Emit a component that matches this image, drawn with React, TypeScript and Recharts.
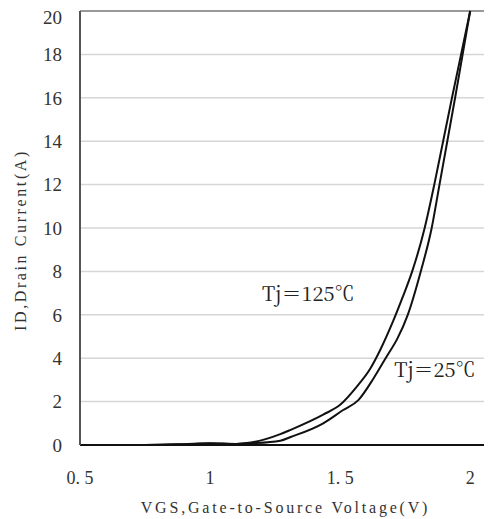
import { LineChart, Line, XAxis, YAxis, CartesianGrid, ReferenceLine, ReferenceDot, Label } from "recharts";

// VGS (V) / ID (A)
const vgs125 = [0.5, 0.75, 0.9, 1.0, 1.1, 1.15, 1.27, 1.31, 1.435, 1.5, 1.565, 1.615, 1.655, 1.7, 1.74, 1.777, 1.825, 1.862, 1.896, 1.93, 1.965, 2.0];
const id125 = [0, 0, 0.04, 0.08, 0.05, 0.1, 0.5, 0.7, 1.4, 1.85, 2.7, 3.5, 4.4, 5.6, 6.8, 8, 10, 12, 14, 16, 18, 20];

const vgs25 = [0.5, 0.75, 0.9, 1.0, 1.1, 1.16, 1.27, 1.31, 1.435, 1.51, 1.57, 1.63, 1.68, 1.72, 1.76, 1.81, 1.852, 1.882, 1.912, 1.942, 1.971, 2.0];
const id25 = [0, 0, 0.03, 0.07, 0.05, 0.08, 0.2, 0.37, 1.0, 1.6, 2.07, 3.1, 4.1, 4.9, 6.0, 8, 10, 12, 14, 16, 18, 20];

const xTicks = [0.5, 1, 1.5, 2];
const xTickLabels = ["0. 5", "1", "1. 5", "2"];
const yTicks = [0, 2, 4, 6, 8, 10, 12, 14, 16, 18, 20];

const data125 = vgs125.map((v, i) => ({ v, id: id125[i] }));
const data25 = vgs25.map((v, i) => ({ v, id: id25[i] }));

const serif = "Liberation Serif";
const cjk = "Noto Serif CJK SC";
const textStyle = { fontFamily: serif, fill: "#333" };

function XTick(props: any) {
  const { x, y, payload } = props;
  return (
    <text x={x} y={y} dy="0.71em" textAnchor="middle" style={{ ...textStyle, fontSize: 18 }}>
      {xTickLabels[xTicks.indexOf(payload.value)]}
    </text>
  );
}

function YTick(props: any) {
  const { x, y, payload } = props;
  return (
    <text x={x} y={y} dy="0.355em" textAnchor="end" style={{ ...textStyle, fontSize: 19 }}>
      {payload.value}
    </text>
  );
}

function YTitle(props: any) {
  const vb = props.viewBox || {};
  const cx = 14;
  const cy = vb.y + vb.height / 2 + 12;
  return (
    <text
      x={cx}
      y={cy}
      transform={`rotate(-90, ${cx}, ${cy})`}
      textAnchor="middle"
      dominantBaseline="middle"
      style={{ ...textStyle, fontSize: 16, letterSpacing: 2.6 }}
    >
      ID,Drain Current(A)
    </text>
  );
}

function XTitle(props: any) {
  const vb = props.viewBox || {};
  const cx = vb.x + vb.width / 2;
  const cy = vb.y + vb.height - 6;
  return (
    <text x={cx} y={cy} textAnchor="middle" style={{ ...textStyle, fontSize: 16, letterSpacing: 2.8 }}>
      VGS,Gate-to-Source Voltage(V)
    </text>
  );
}

export default function App() {
  return (
    <LineChart width={484} height={511} margin={{ top: 3, right: 1, left: 0, bottom: 0 }}>
      <CartesianGrid vertical={false} stroke="#d6d6d6" strokeWidth={1.5} />
      <XAxis
        type="number"
        dataKey="v"
        domain={[0.5, 2.08]}
        ticks={xTicks}
        allowDataOverflow
        height={74}
        tickLine={false}
        tickMargin={20}
        axisLine={{ stroke: "#111", strokeWidth: 2 }}
        tick={<XTick />}
      >
        <Label content={<XTitle />} />
      </XAxis>
      <YAxis
        type="number"
        domain={[0, 20]}
        ticks={yTicks}
        width={72}
        tickLine={false}
        tickMargin={12}
        axisLine={{ stroke: "#555", strokeWidth: 2 }}
        tick={<YTick />}
      >
        <Label content={<YTitle />} />
      </YAxis>
      <ReferenceLine y={20} stroke="#999" strokeWidth={2} />
      <Line data={data125} dataKey="id" type="monotone" stroke="#111" strokeWidth={2} dot={false} isAnimationActive={false} />
      <Line data={data25} dataKey="id" type="monotone" stroke="#111" strokeWidth={2} dot={false} isAnimationActive={false} />
      <ReferenceDot x={1.2} y={6.96} r={0} stroke="none" fill="none">
        <Label value="Tj＝125℃" position="right" offset={0} style={{ fontFamily: cjk, fontSize: 20, fill: "#222" }} />
      </ReferenceDot>
      <ReferenceDot x={1.708} y={3.46} r={0} stroke="none" fill="none">
        <Label value="Tj＝25℃" position="right" offset={0} style={{ fontFamily: cjk, fontSize: 20, fill: "#222" }} />
      </ReferenceDot>
    </LineChart>
  );
}
